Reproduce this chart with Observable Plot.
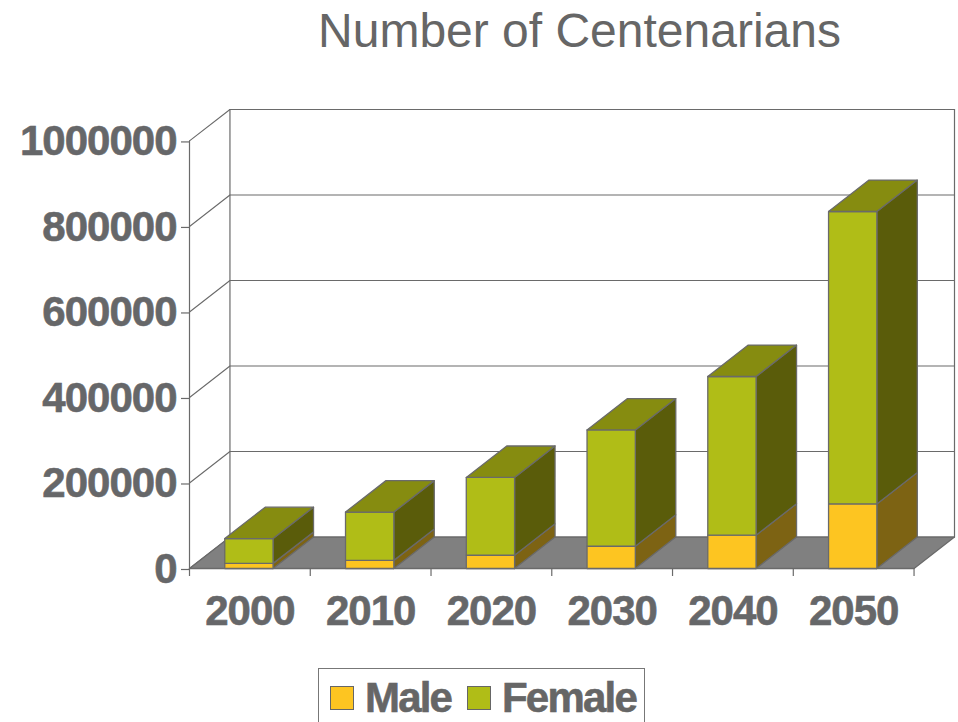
<!DOCTYPE html>
<html>
<head>
<meta charset="utf-8">
<script src="https://cdn.jsdelivr.net/npm/d3@7"></script>
<script src="https://cdn.jsdelivr.net/npm/@observablehq/plot@0.6"></script>
<style>
html,body{margin:0;padding:0;background:#fff;overflow:hidden;width:958px;height:722px}
#title{height:60px;padding-left:201px;padding-top:1px;margin-bottom:-1px;text-align:center;font:48px/60px "Liberation Sans",sans-serif;color:#666;white-space:nowrap}
#chart{height:600px}
#chart svg{display:block}
#legend{position:absolute;left:318px;top:668px;width:327px;height:60px;box-sizing:border-box;border:1px solid #777;font:bold 42px "Liberation Sans",sans-serif;color:#666;letter-spacing:-1.8px;-webkit-text-stroke:.6px #666}
#legend span{position:absolute;top:4px;line-height:50px}
#legend i{position:absolute;top:17px;width:24px;height:24px;box-sizing:border-box;border:1px solid #666}
</style>
</head>
<body>
<div id="title">Number of Centenarians</div>
<div id="chart"></div>
<div id="legend"></div>
<script>
const years = [2000, 2010, 2020, 2030, 2040, 2050];
const male = [12000, 19000, 31000, 52000, 78000, 151000];
const total = [70000, 132000, 213000, 324000, 449000, 835000];
const yTicks = [0, 200000, 400000, 600000, 800000, 1000000];
const seriesNames = ["Male", "Female"];

const colors = {
  Male: {front: "#fdc521", side: "#7d6313"},
  Female: {front: "#b0bd17", side: "#5a5c0a", top: "#868c10"},
  floor: "#808080",
  line: "#6a6a6a",
  text: "#666769"
};

const depthX = 0.335;   // category units
const depthY = 73500;   // value units
const barL = 0.292, barR = 0.692;

const faces = [];
let fid = 0;
function face(pts, fill, dx = depthX) {
  const id = fid++;
  for (const [x, y] of [...pts, pts[0]]) faces.push({id, x, y, fill});
}
const quadSide = (x, a, b) => [[x, a], [x + depthX, a + depthY], [x + depthX, b + depthY], [x, b]];
const quadFront = (l, r, a, b) => [[l, a], [r, a], [r, b], [l, b]];
const quadTop = (l, r, v) => [[l, v], [r, v], [r + depthX, v + depthY], [l + depthX, v + depthY]];

// floor
face(quadTop(0, years.length, 0), colors.floor);
years.forEach((yr, i) => {
  const l = i + barL, r = i + barR, m = male[i], t = total[i];
  face(quadSide(r, 0, m), colors.Male.side);
  face(quadFront(l, r, 0, m), colors.Male.front);
  face(quadSide(r, m, t), colors.Female.side);
  face(quadFront(l, r, m, t), colors.Female.front);
  face(quadTop(l, r, t), colors.Female.top);
});

const n = years.length;
const gridRows = yTicks.flatMap((v, k) => [
  {k, x: 0, y: v},
  {k, x: depthX, y: v + depthY},
  {k, x: n + depthX, y: v + depthY}
]);
const frameRows = [
  {k: "a", x: 0, y: 0}, {k: "a", x: 0, y: 1000000},
  {k: "b", x: depthX, y: depthY}, {k: "b", x: depthX, y: 1000000 + depthY},
  {k: "c", x: n + depthX, y: depthY}, {k: "c", x: n + depthX, y: 1000000 + depthY},
  {k: "d", x: 0, y: 0}, {k: "d", x: n, y: 0}
];

const fontProps = {fontSize: 42, fontWeight: "bold", fontFamily: "Liberation Sans, sans-serif", fill: colors.text};

const plot = Plot.plot({
  width: 958,
  height: 600,
  marginLeft: 189,
  marginRight: 4,
  marginTop: 49,
  marginBottom: 92,
  style: {background: "#fff", overflow: "visible"},
  x: {type: "linear", domain: [0, n + depthX], label: null},
  y: {type: "linear", domain: [0, 1000000 + depthY], label: null},
  color: {type: "identity"},
  marks: [
    Plot.line(gridRows, {x: "x", y: "y", z: "k", stroke: colors.line, strokeWidth: 1.1}),
    Plot.line(frameRows, {x: "x", y: "y", z: "k", stroke: colors.line, strokeWidth: 1.2}),
    Plot.line(faces, {x: "x", y: "y", z: "id", fill: "fill", stroke: colors.line, strokeWidth: 1.3, strokeLinejoin: "round"}),
    Plot.axisY(yTicks, {
      anchor: "left", tickSize: 8, tickPadding: 5, stroke: colors.line, strokeWidth: 1.2,
      tickFormat: d => String(d), label: null, dy: 1, ...fontProps
    }),
    Plot.axisX(d3.range(n + 1), {
      anchor: "bottom", tickSize: 8, stroke: colors.line, strokeWidth: 1.2,
      tickFormat: () => "", label: null
    }),
    Plot.axisX(years.map((_, i) => i + 0.5), {
      anchor: "bottom", tickSize: 0, tickPadding: 27,
      tickFormat: d => String(years[Math.floor(d)]), label: null, ...fontProps
    })
  ]
});
document.getElementById("chart").appendChild(plot);
plot.querySelectorAll("text").forEach(t => {
  t.style.letterSpacing = "-1px";
  t.style.stroke = colors.text;
  t.style.strokeWidth = ".6px";
});

const legend = document.getElementById("legend");
const legendPos = {Male: [11, 46], Female: [148, 183]};
seriesNames.forEach(name => {
  const sw = document.createElement("i");
  sw.style.left = legendPos[name][0] + "px";
  sw.style.background = colors[name].front;
  const lb = document.createElement("span");
  lb.style.left = legendPos[name][1] + "px";
  lb.textContent = name;
  legend.append(sw, lb);
});
</script>
</body>
</html>
